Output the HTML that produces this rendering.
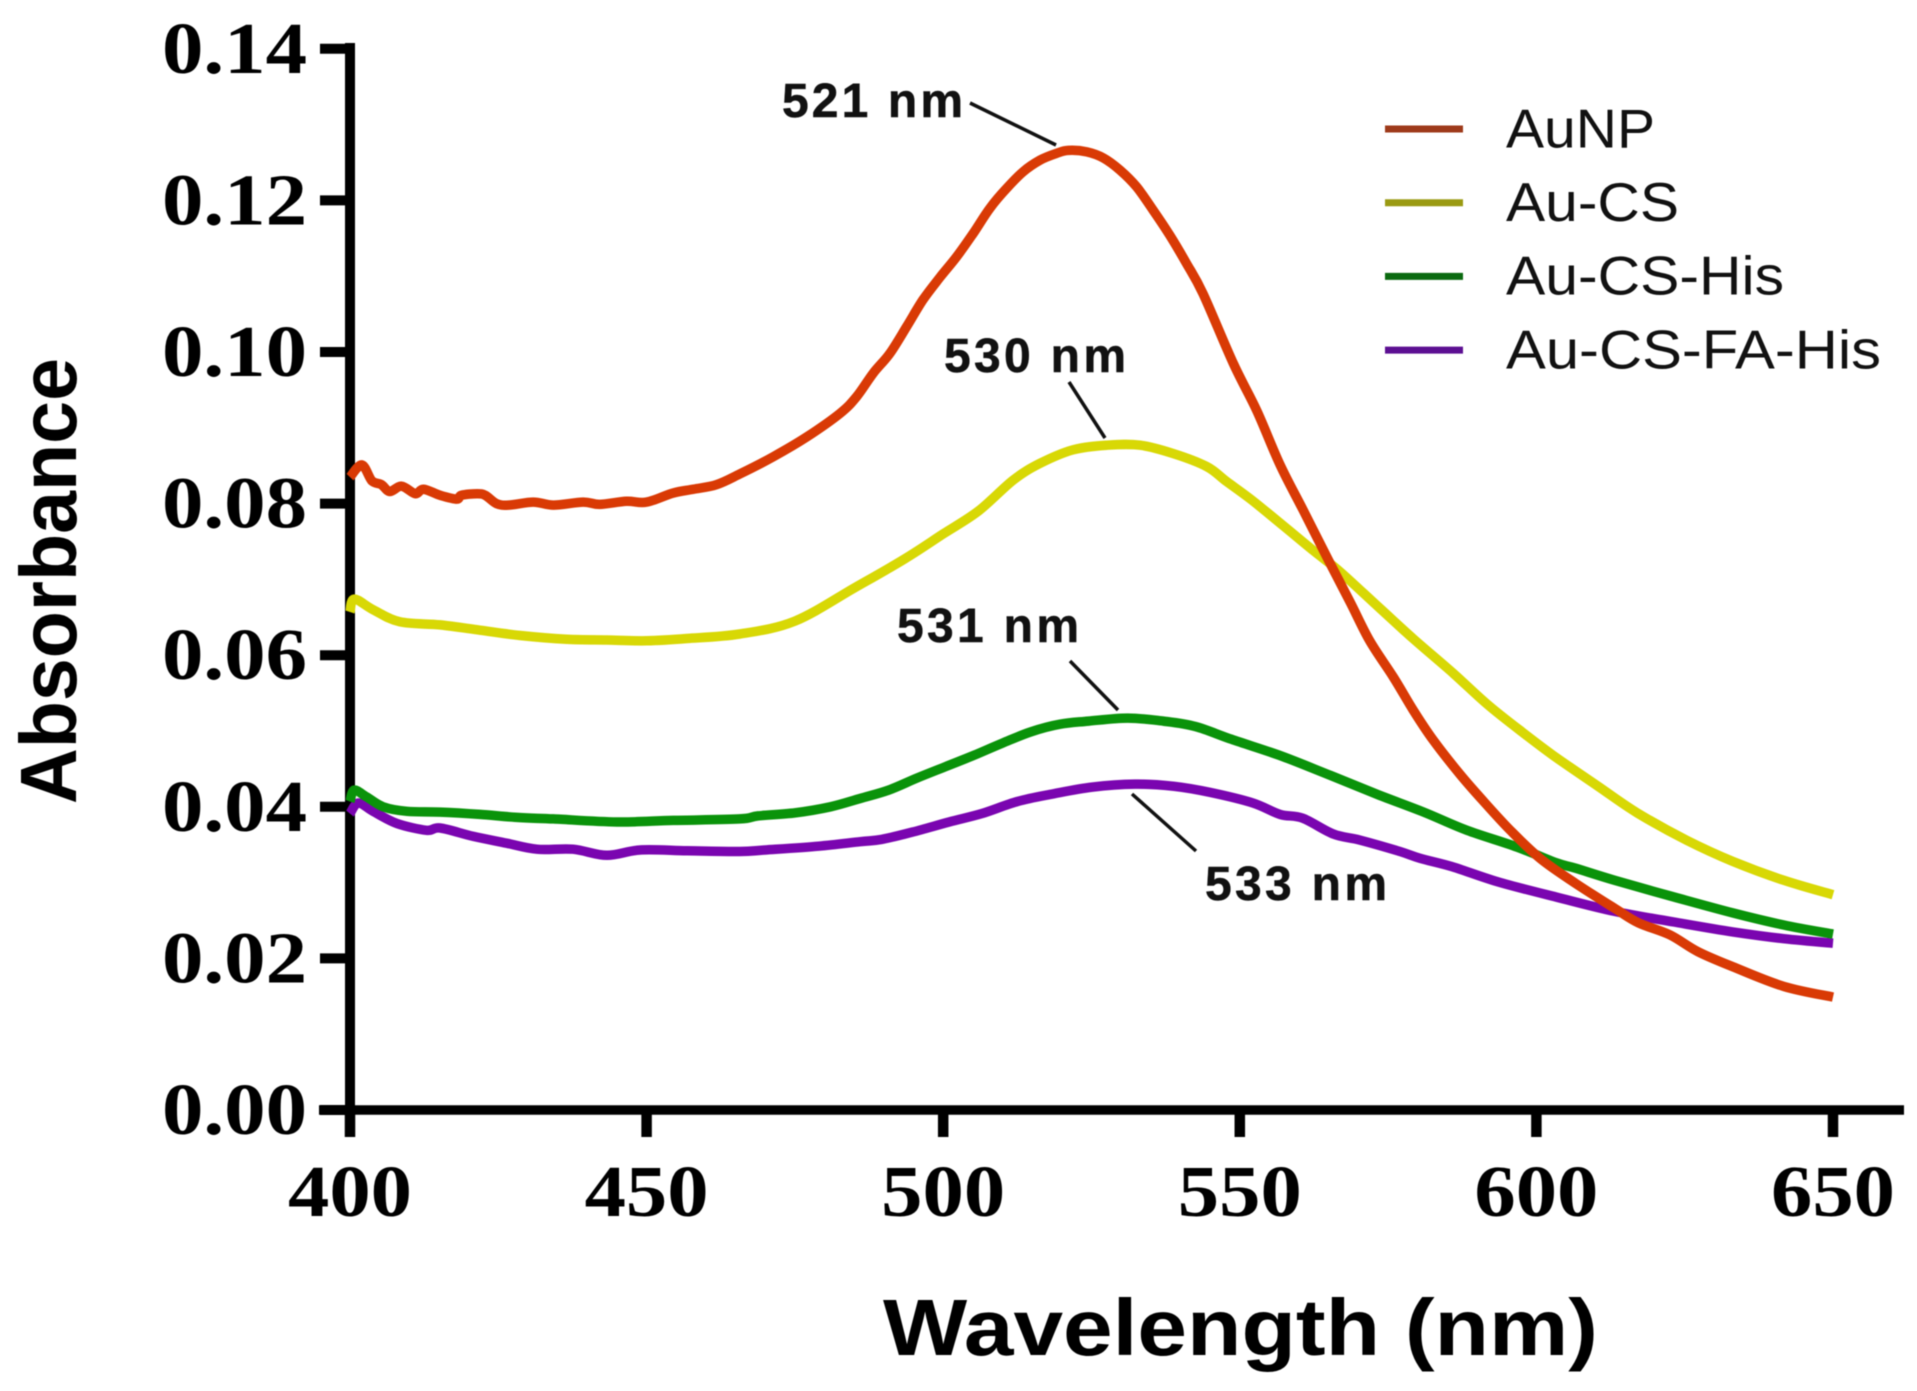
<!DOCTYPE html>
<html>
<head>
<meta charset="utf-8">
<title>Absorbance vs Wavelength</title>
<style>
html,body{margin:0;padding:0;background:#fff;width:1917px;height:1391px;overflow:hidden}
svg{display:block;filter:blur(0.5px)}
.tick{font-family:"Liberation Serif",serif;font-weight:bold;font-size:73px;fill:#000}
.title{font-family:"Liberation Sans",sans-serif;font-weight:bold;font-size:80px;fill:#000}
.legend{font-family:"Liberation Sans",sans-serif;font-size:55px;fill:#111}
.note{font-family:"Liberation Sans",sans-serif;font-weight:bold;font-size:48px;fill:#111;stroke:#111;stroke-width:0.5px}
</style>
</head>
<body>
<svg id="chart" xmlns="http://www.w3.org/2000/svg" width="1917" height="1391" viewBox="0 0 1917 1391">
  <rect width="1917" height="1391" fill="#fff"/>
  <g id="axes"></g>
  <g id="series"></g>
  <g id="notes"></g>
  <g id="legend"></g>
  <text class="title" x="883" y="1355" textLength="715" lengthAdjust="spacingAndGlyphs">Wavelength (nm)</text>
  <text class="title" transform="translate(76,804) rotate(-90)" x="0" y="0" textLength="446" lengthAdjust="spacingAndGlyphs">Absorbance</text>
</svg>
<script>
const xTicks = [400, 450, 500, 550, 600, 650];
const yTicks = [0, 0.02, 0.04, 0.06, 0.08, 0.10, 0.12, 0.14];
const yTickLabels = ["0.00", "0.02", "0.04", "0.06", "0.08", "0.10", "0.12", "0.14"];

const seriesNames = ["AuNP", "Au-CS", "Au-CS-His", "Au-CS-FA-His"];

const aunpWavelengths = [400,402,403.7,405.3,406.7,408.7,411,412.4,415.2,418,418.8,421.4,422.8,424.7,426.7,430.9,434.3,439.3,442.1,446.6,450,454.5,457.9,461.8,465.7,471.4,477,482.6,485.4,488.2,491,493.8,496.6,499.5,502.3,505.1,507.9,510.7,513.5,516.3,519.1,521.1,524.2,527,529.8,532.6,535.4,538.2,541,543.8,548.9,552.9,556.8,560.7,564.9,568.6,571.9,575.9,579.2,582.6,587.1,591,595.6,600.6,606.6,613.2,617.2,622.5,627.2,633.1,641.7,650];
const aunpValues = [0.0835,0.0851,0.0830,0.0825,0.0816,0.0823,0.0813,0.0819,0.0811,0.0806,0.0811,0.0813,0.0811,0.0800,0.0798,0.0802,0.0798,0.0802,0.0799,0.0803,0.0802,0.0814,0.0819,0.0825,0.0839,0.0862,0.0888,0.0919,0.0941,0.0972,0.0998,0.1033,0.1069,0.1099,0.1126,0.1157,0.1190,0.1216,0.1238,0.1253,0.1262,0.1266,0.1264,0.1256,0.1240,0.1218,0.1187,0.1154,0.1117,0.1077,0.0985,0.0922,0.0851,0.0791,0.0726,0.0670,0.0619,0.0571,0.0528,0.0488,0.0443,0.0408,0.0369,0.0332,0.0299,0.0266,0.0247,0.0231,0.0209,0.0189,0.0163,0.0149];

const auCsWavelengths = [400,400.7,403.9,408.4,415.2,421.9,428.7,436.5,443.3,450,456.8,465.7,475,485.3,493.5,500,505.9,511.8,516.3,521.9,527.6,533.2,538.8,544.4,547.8,552.3,557.3,562.4,566.9,573.6,579.2,586,591.6,597.2,602.8,610.4,617,625.3,633.1,641.7,650];
const auCsValues = [0.0657,0.0674,0.0660,0.0644,0.0640,0.0633,0.0626,0.0621,0.0620,0.0619,0.0622,0.0628,0.0645,0.0690,0.0727,0.0760,0.0790,0.0831,0.0853,0.0871,0.0877,0.0877,0.0866,0.0849,0.0829,0.0803,0.0771,0.0738,0.0710,0.0662,0.0622,0.0576,0.0536,0.0501,0.0468,0.0427,0.0392,0.0356,0.0328,0.0303,0.0284];

const auCsHisWavelengths = [400,400.7,402.8,405.6,409.6,415.2,421.9,428.1,434.3,445,454.5,465.7,468.8,475,481,486,490.8,495.6,500.4,505.2,510,514.8,519.7,524.5,531.1,537.1,542.5,548.6,557,565.4,573.3,581,588.3,596.7,603.4,606.6,613.2,623.2,633.1,641.7,650];
const auCsHisValues = [0.0407,0.0422,0.0413,0.0400,0.0394,0.0393,0.0390,0.0386,0.0384,0.0380,0.0382,0.0384,0.0388,0.0392,0.0400,0.0411,0.0422,0.0438,0.0453,0.0468,0.0484,0.0499,0.0509,0.0513,0.0517,0.0513,0.0506,0.0489,0.0467,0.0441,0.0416,0.0393,0.0369,0.0347,0.0326,0.0319,0.0303,0.0281,0.0260,0.0244,0.0232];

const auCsFaHisWavelengths = [400,401.4,403.9,407.9,412.9,415.2,420.8,426.4,431.5,437.6,443.3,448.9,456.8,465.7,470,479,486,489.6,495,501,506.5,512.5,518.5,525.1,532.3,538.9,545,552.2,556.8,560.6,565.8,570.3,577,580.4,585.8,593.5,603.3,613.2,623.2,633.1,641.7,650];
const auCsFaHisValues = [0.0391,0.0405,0.0394,0.0378,0.0369,0.0372,0.0361,0.0352,0.0344,0.0344,0.0336,0.0343,0.0342,0.0341,0.0343,0.0348,0.0354,0.0357,0.0367,0.0380,0.0391,0.0407,0.0417,0.0426,0.0430,0.0427,0.0419,0.0405,0.0390,0.0385,0.0364,0.0356,0.0341,0.0332,0.0321,0.0301,0.0281,0.0262,0.0248,0.0235,0.0226,0.0220];

const noteLabels = ["521 nm", "530 nm", "531 nm", "533 nm"];

const NS = "http://www.w3.org/2000/svg";
const X0 = 350, X_PER_NM = 5.932, Y0 = 1110, Y_PER_UNIT = 7580;
function xScale(w) { return X0 + (w - 400) * X_PER_NM; }
function yScale(v) { return Y0 - v * Y_PER_UNIT; }
function make(tag, attrs) {
  const el = document.createElementNS(NS, tag);
  for (const k in attrs) el.setAttribute(k, attrs[k]);
  return el;
}
const axes = document.getElementById("axes");
const seriesG = document.getElementById("series");
const notesG = document.getElementById("notes");
const legendG = document.getElementById("legend");

/* axis lines */
const yAxisLine = make("line", {x1: xScale(400), x2: xScale(400), y1: 43, y2: 1137, stroke: "#000", "stroke-width": 10});


axes.appendChild(yAxisLine);
const xAxisLine = make("line", {x1: 319, x2: 1904, y1: yScale(0), y2: yScale(0), stroke: "#000", "stroke-width": 9.5});


axes.appendChild(xAxisLine);

/* y ticks */
yTicks.forEach(function (v, i) {
  const t = make("line", {x1: 320, x2: 350, y1: yScale(v), y2: yScale(v), stroke: "#000", "stroke-width": 10});
  
  
  axes.appendChild(t);
  const l = make("text", {class: "tick", x: 162, y: yScale(v) + 24, textLength: 145, lengthAdjust: "spacingAndGlyphs"});
  
  
  l.textContent = yTickLabels[i];
  axes.appendChild(l);
});

/* x ticks */
xTicks.forEach(function (w) {
  const t = make("line", {x1: xScale(w), x2: xScale(w), y1: yScale(0), y2: 1137, stroke: "#000", "stroke-width": 10.5});
  
  
  axes.appendChild(t);
  const l = make("text", {class: "tick", x: xScale(w) - 62, y: 1216, textLength: 124, lengthAdjust: "spacingAndGlyphs"});
  
  
  l.textContent = String(w);
  axes.appendChild(l);
});

/* series: smooth curve through every data point */
function curvePath(ws, vs) {
  const px = ws.map(xScale), py = vs.map(yScale);
  let d = "M" + px[0].toFixed(1) + "," + py[0].toFixed(1);
  for (let i = 0; i < px.length - 1; i++) {
    const a = Math.max(i - 1, 0), b = Math.min(i + 2, px.length - 1);
    const c1x = px[i] + (px[i + 1] - px[a]) / 6, c1y = py[i] + (py[i + 1] - py[a]) / 6;
    const c2x = px[i + 1] - (px[b] - px[i]) / 6, c2y = py[i + 1] - (py[b] - py[i]) / 6;
    d += "C" + c1x.toFixed(1) + "," + c1y.toFixed(1) + " " + c2x.toFixed(1) + "," + c2y.toFixed(1) + " " + px[i + 1].toFixed(1) + "," + py[i + 1].toFixed(1);
  }
  return d;
}
function drawSeries(ws, vs, color, name) {
  const p = make("path", {d: curvePath(ws, vs), fill: "none", stroke: color, "stroke-width": 9.5, "stroke-linejoin": "round"});
  
  
  seriesG.appendChild(p);
}
drawSeries(auCsFaHisWavelengths, auCsFaHisValues, "#7a05b0", "series-au-cs-fa-his");
drawSeries(auCsHisWavelengths, auCsHisValues, "#0a930a", "series-au-cs-his");
drawSeries(auCsWavelengths, auCsValues, "#d8d805", "series-au-cs");
drawSeries(aunpWavelengths, aunpValues, "#d93a05", "series-aunp");

/* legend */
const legendColors = ["#9e3a1a", "#9a9a12", "#0b6a10", "#5c0f92"];
const legendWidths = [149, 173, 278, 375];
seriesNames.forEach(function (name, i) {
  const y = 129 + i * 73.7;
  const s = make("line", {x1: 1385, x2: 1463, y1: y, y2: y, stroke: legendColors[i], "stroke-width": 7});
  
  
  legendG.appendChild(s);
  const t = make("text", {class: "legend", x: 1506, y: y + 18.3, textLength: legendWidths[i], lengthAdjust: "spacingAndGlyphs"});
  
  
  t.textContent = name;
  legendG.appendChild(t);
});

/* annotations */
const noteBoxes = [[782, 117, 181], [944, 372, 182], [897, 642, 182], [1205, 900, 182]];
const noteLines = [[970, 103, 1056, 145], [1069, 382, 1105, 438], [1070, 661, 1118, 710], [1132, 794, 1196, 851]];
noteLabels.forEach(function (label, i) {
  const b = noteBoxes[i], n = noteLines[i];
  const t = make("text", {class: "note", x: b[0], y: b[1], textLength: b[2], lengthAdjust: "spacing"});
  
  
  t.textContent = label;
  notesG.appendChild(t);
  const l = make("line", {x1: n[0], y1: n[1], x2: n[2], y2: n[3], stroke: "#111", "stroke-width": 3.5});
  
  
  notesG.appendChild(l);
});
</script>
</body>
</html>
